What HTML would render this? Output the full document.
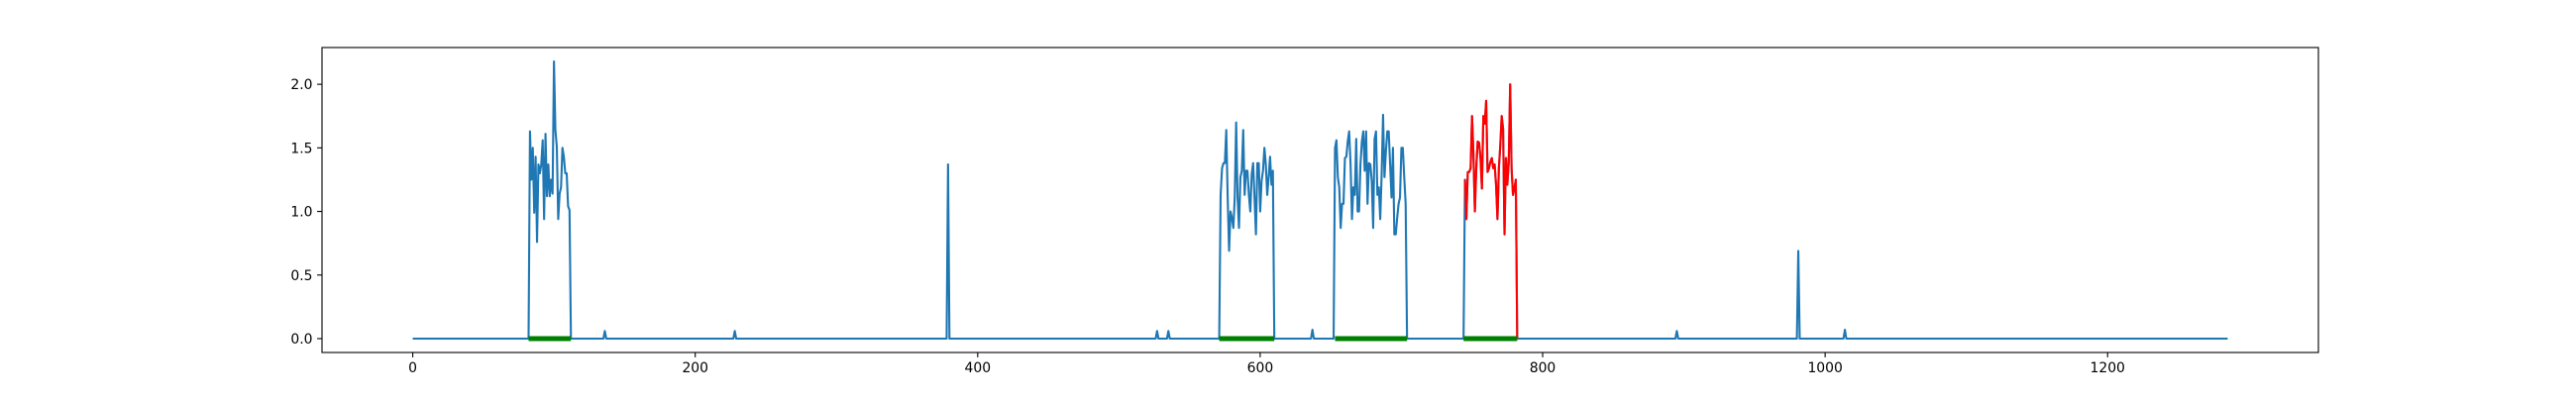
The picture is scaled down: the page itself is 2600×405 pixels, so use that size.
<!DOCTYPE html>
<html><head><meta charset="utf-8"><style>
html,body{margin:0;padding:0;background:#fff;}
svg text{font-family:"DejaVu Sans","Liberation Sans",sans-serif;font-size:13.9px;fill:#000;}
</style></head><body>
<svg id="chart" width="2600" height="400" viewBox="0 0 2600 400">
<rect x="0" y="0" width="2600" height="400" fill="#fff"/>
<g id="plot"></g>
<g id="axes"></g>
</svg>
<script>
const N = 1286;
const burst1Start = 83;
const burst1 = [1.63,1.25,1.50,0.99,1.43,0.76,1.37,1.30,1.37,1.56,0.94,1.61,1.12,1.37,1.12,1.25,1.14,2.18,1.64,1.51,0.94,1.14,1.19,1.50,1.43,1.30,1.30,1.04,1.01];
const burst2Start = 572;
const burst2 = [1.13,1.34,1.38,1.38,1.64,1.11,0.69,1.0,0.95,0.87,1.11,1.70,1.11,0.87,1.27,1.32,1.64,1.13,1.32,1.32,1.13,1.0,1.29,1.38,1.11,0.82,1.38,1.38,1.0,1.24,1.32,1.50,1.37,1.13,1.27,1.43,1.21,1.32];
const burst3Start = 653;
const burst3 = [1.50,1.56,1.27,1.19,0.87,1.06,1.06,1.42,1.43,1.55,1.63,1.37,0.94,1.19,1.13,1.57,1.0,1.0,1.37,1.55,1.63,1.32,1.63,1.06,1.38,1.37,1.24,0.87,1.57,1.63,1.13,1.19,0.94,1.29,1.76,1.27,1.47,1.63,1.63,1.37,1.11,1.50,0.82,0.82,0.95,1.06,1.11,1.50,1.50,1.27,1.06];
const burst4Start = 745;
const burst4 = [1.25,0.94,1.31,1.31,1.34,1.75,1.45,1.0,1.34,1.55,1.54,1.42,1.18,1.75,1.69,1.87,1.31,1.34,1.39,1.42,1.34,1.37,1.21,0.94,1.34,1.52,1.75,1.65,0.82,1.42,1.21,1.39,2.0,1.34,1.13,1.18,1.25];
const spikeIdx = [136,228,379,527,535,637,895,981,1014];
const spikeVal = [0.06,0.06,1.37,0.06,0.06,0.07,0.06,0.69,0.07];
const greenStart = [82,571,653,744];
const greenEnd = [112,610,704,782];
const redStart = 745, redEnd = 782;
const xTicks = [0,200,400,600,800,1000,1200];
const yTicks = [0.0,0.5,1.0,1.5,2.0];
const yTickLabels = ["0.0","0.5","1.0","1.5","2.0"];

const values = new Array(N).fill(0);
[[burst1Start,burst1],[burst2Start,burst2],[burst3Start,burst3],[burst4Start,burst4]].forEach(([s,a])=>a.forEach((v,i)=>{values[s+i]=v;}));
spikeIdx.forEach((ix,i)=>{values[ix]=spikeVal[i];});

const L=325,R=2340,T=48,B=356;
const xmin=-64.25,xmax=(N-1)+64.25;
const ymax=Math.max(...values), ymin=0, yr=ymax-ymin;
const y0=ymin-0.05*yr, y1=ymax+0.05*yr;
const X=v=>L+(v-xmin)/(xmax-xmin)*(R-L);
const Y=v=>B-(v-y0)/(y1-y0)*(B-T);
const NS='http://www.w3.org/2000/svg';
const plot=document.getElementById('plot'), axes=document.getElementById('axes');
function mk(tag,attrs,parent){const e=document.createElementNS(NS,tag);for(const k in attrs)e.setAttribute(k,attrs[k]);parent.appendChild(e);return e;}

const clip=mk('clipPath',{id:'clip'},plot);
mk('rect',{x:L,y:T,width:R-L,height:B-T},clip);
plot.setAttribute('clip-path','url(#clip)');

let d=values.map((v,i)=>(i?'L':'M')+X(i).toFixed(2)+' '+Y(v).toFixed(2)).join('');
const line=mk('path',{d:d,fill:'none',stroke:'#1f77b4','stroke-width':2.1,'stroke-linejoin':'round'},plot);



let rd='';
for(let i=redStart;i<=redEnd;i++)rd+=(i===redStart?'M':'L')+X(i).toFixed(2)+' '+Y(values[i]).toFixed(2);
const red=mk('path',{d:rd,fill:'none',stroke:'#ff0000','stroke-width':2.1,'stroke-linejoin':'round'},plot);



greenStart.forEach((s,i)=>{
  const g=mk('line',{x1:X(s),x2:X(greenEnd[i]),y1:Y(0),y2:Y(0),stroke:'#008000','stroke-width':5},plot);
  
  
});

const frame=mk('rect',{x:L,y:T,width:R-L,height:B-T,fill:'none',stroke:'#000','stroke-width':1.1},axes);



xTicks.forEach(t=>{
  const x=X(t);
  const tk=mk('line',{x1:x,x2:x,y1:B,y2:B+4.9,stroke:'#000','stroke-width':1.1},axes);
  
  
  const tx=mk('text',{x:x,y:B+20,'text-anchor':'middle'},axes);
  tx.textContent=String(t);
  
  
});
yTicks.forEach((t,i)=>{
  const y=Y(t);
  const tk=mk('line',{x1:L-4.9,x2:L,y1:y,y2:y,stroke:'#000','stroke-width':1.1},axes);
  
  
  const tx=mk('text',{x:L-9.5,y:y+5,'text-anchor':'end'},axes);
  tx.textContent=yTickLabels[i];
  
  
});
</script>
</body></html>
